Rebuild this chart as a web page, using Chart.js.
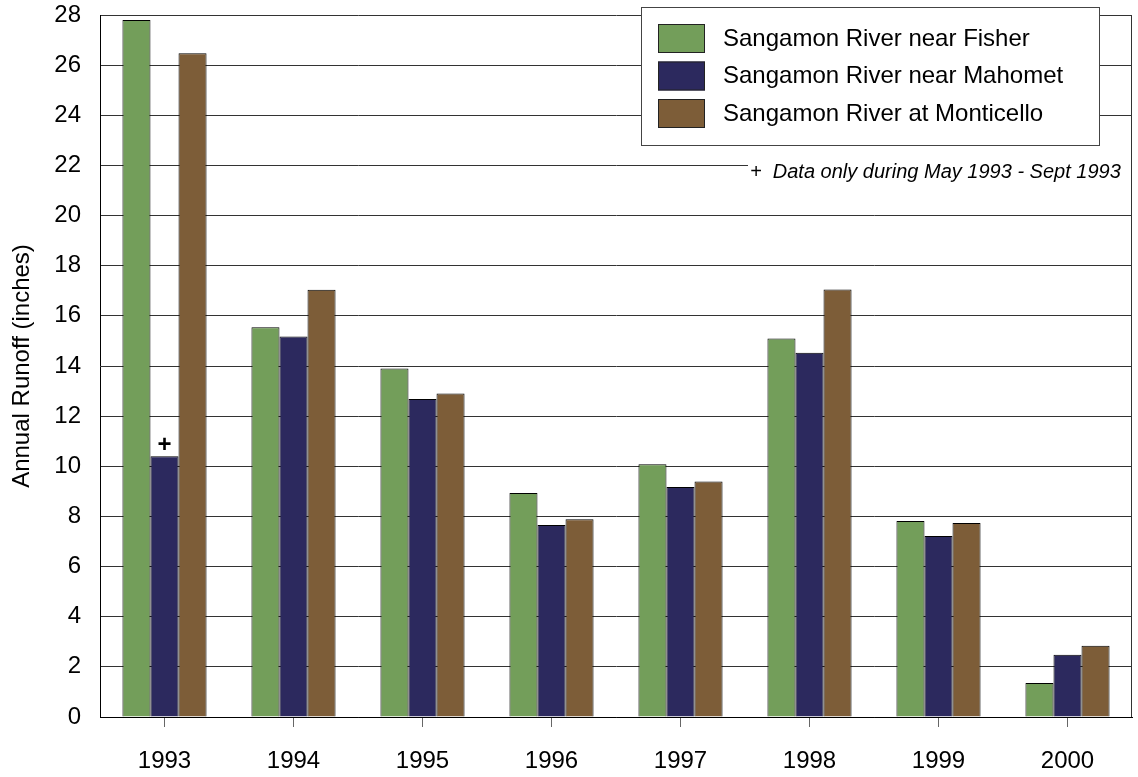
<!DOCTYPE html>
<html>
<head>
<meta charset="utf-8">
<title>Annual Runoff</title>
<script src="https://cdn.jsdelivr.net/npm/chart.js"></script>
<style>
  html, body { margin: 0; padding: 0; background: #fff; }
  #wrap { width: 1138px; height: 777px; }
</style>
</head>
<body>
<div id="wrap"><canvas id="myChart" width="1138" height="777"></canvas></div>
<script>
// data
const years = ["1993", "1994", "1995", "1996", "1997", "1998", "1999", "2000"];
const fisher = [27.8, 15.55, 13.9, 8.93, 10.08, 15.1, 7.82, 1.36];
const mahomet = [10.4, 15.18, 12.68, 7.66, 9.17, 14.53, 7.22, 2.48];
const monticello = [26.47, 17.04, 12.9, 7.89, 9.39, 17.05, 7.74, 2.84];
const seriesNames = [
  "Sangamon River near Fisher",
  "Sangamon River near Mahomet",
  "Sangamon River at Monticello",
];
const seriesColors = ["#739e5a", "#2c295e", "#7d5d38"];
const noteText = "+  Data only during May 1993 - Sept 1993";

const FONT = "'Liberation Sans', Arial, sans-serif";

// draws the box border, the legend, the note and the "+" marker
const extrasPlugin = {
  id: "extras",
  afterDraw(chart) {
    const ctx = chart.ctx;
    const area = chart.chartArea;
    const yScale = chart.scales.y;
    ctx.save();

    // note sitting on the 22 gridline (white patch behind the text)
    const noteY = yScale.getPixelForValue(22);
    ctx.fillStyle = "#fff";
    ctx.fillRect(748, noteY - 7, area.right - 748 - 1, 26);
    ctx.fillStyle = "#000";
    ctx.font = "italic 20px " + FONT;
    ctx.textBaseline = "middle";
    ctx.textAlign = "left";
    ctx.fillText(noteText, 750, noteY + 7);

    // right border of the plot box
    ctx.strokeStyle = "#333";
    ctx.lineWidth = 1;
    ctx.beginPath();
    ctx.moveTo(Math.round(area.right) - 0.5, area.top);
    ctx.lineTo(Math.round(area.right) - 0.5, area.bottom);
    ctx.stroke();

    // legend box
    ctx.fillStyle = "#fff";
    ctx.fillRect(641, 7, 459, 139);
    ctx.strokeStyle = "#444";
    ctx.strokeRect(641.5, 7.5, 458, 138);
    ctx.font = "24px " + FONT;
    seriesNames.forEach((name, i) => {
      const y = 24 + i * 37.5;
      ctx.fillStyle = seriesColors[i];
      ctx.fillRect(658, y, 47, 29);
      ctx.strokeStyle = "#222";
      ctx.strokeRect(658.5, y + 0.5, 46, 28);
      ctx.fillStyle = "#000";
      ctx.fillText(name, 723, y + 15);
    });

    // "+" over the partial-year Mahomet bar
    const bar = chart.getDatasetMeta(1).data[0];
    ctx.font = "bold 24px " + FONT;
    ctx.textAlign = "center";
    ctx.textBaseline = "bottom";
    ctx.fillText("+", bar.x, bar.y + 1);

    ctx.restore();
  },
};

function createChart() {
  const ctx = document.getElementById("myChart");
  Chart.defaults.font.family = FONT;
  Chart.defaults.color = "#000";

  new Chart(ctx, {
    type: "bar",
    data: {
      labels: years,
      datasets: [fisher, mahomet, monticello].map((values, i) => ({
        label: seriesNames[i],
        data: values,
        backgroundColor: seriesColors[i],
        borderColor: "#000",
        borderWidth: 1,
        categoryPercentage: 0.652,
        barPercentage: 1.0,
      })),
    },
    options: {
      responsive: false,
      devicePixelRatio: 1,
      animation: false,
      layout: { padding: { top: 15, right: 6, left: 0, bottom: 0 } },
      plugins: {
        legend: { display: false },
        tooltip: { enabled: false },
      },
      scales: {
        x: {
          grid: {
            offset: false,
            drawOnChartArea: false,
            drawTicks: true,
            tickLength: 10,
            color: "#666",
          },
          border: { display: true, color: "#000", width: 1 },
          ticks: { font: { size: 24 }, padding: 20, maxRotation: 0 },
          afterFit(scale) {
            scale.height = 60;
            scale.paddingLeft = 0;
            scale.paddingRight = 0;
          },
        },
        y: {
          min: 0,
          max: 28,
          ticks: { stepSize: 2, font: { size: 24 }, padding: 19 },
          grid: { color: "#333", drawTicks: false },
          border: { display: true, color: "#000", width: 1 },
          title: {
            display: true,
            text: "Annual Runoff (inches)",
            font: { size: 24 },
            padding: { top: 8, bottom: 0 },
          },
          afterFit(scale) {
            scale.width = 100;
            scale.paddingTop = 0;
            scale.paddingBottom = 0;
          },
        },
      },
    },
    plugins: [extrasPlugin],
  });
}

createChart();
</script>
</body>
</html>
